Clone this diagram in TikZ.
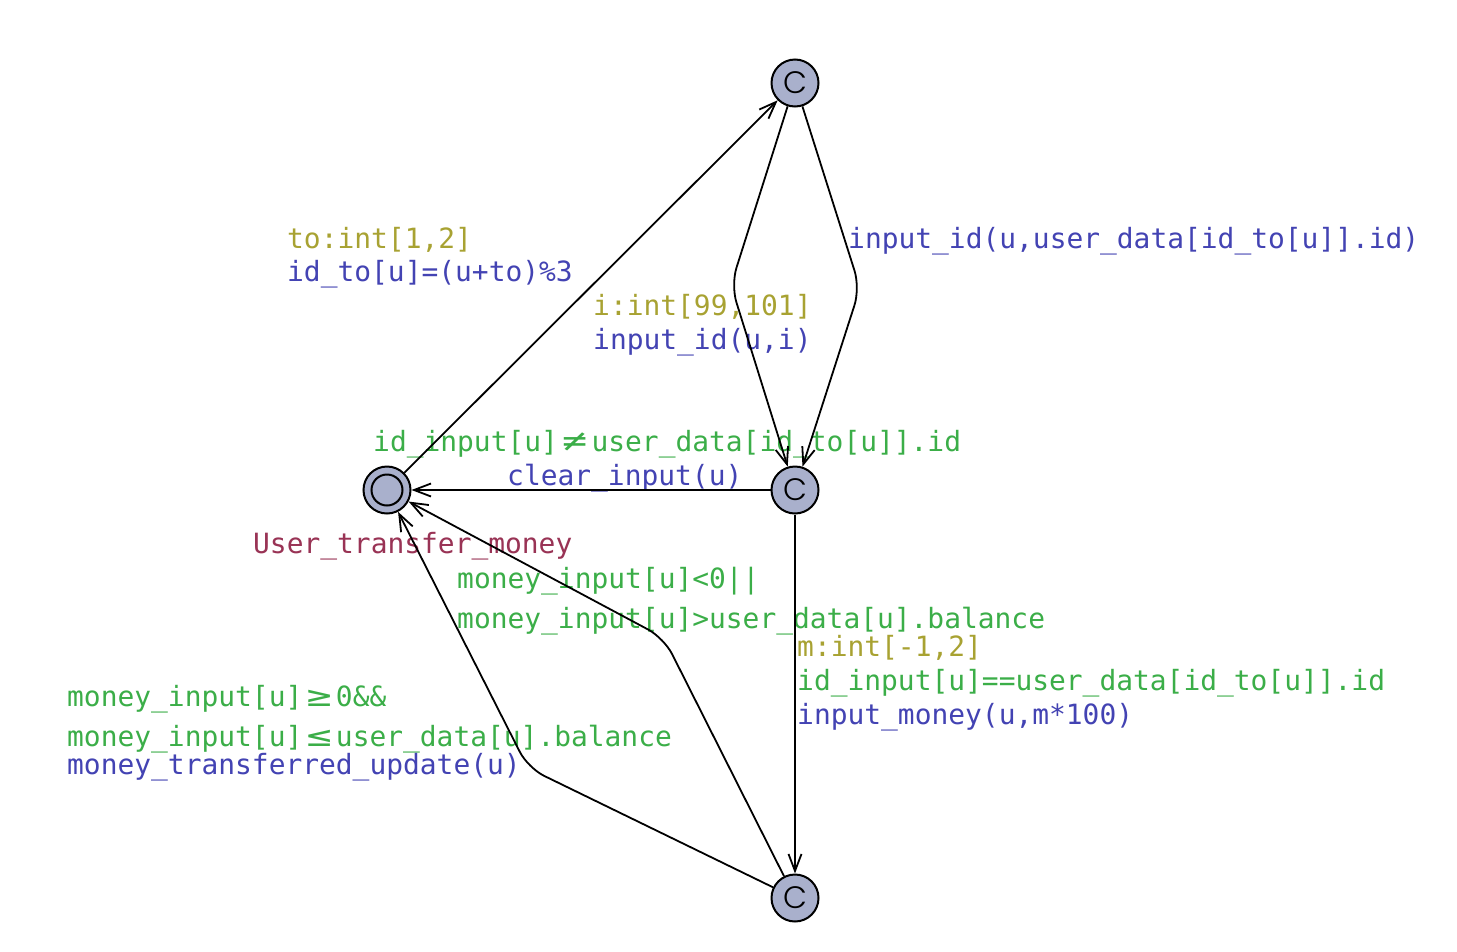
\documentclass[tikz,border=0pt]{standalone}
\usepackage{fontspec}
\usepackage{graphicx}
\usetikzlibrary{arrows.meta}
\newfontfamily\monofont{DejaVu Sans Mono}
\newfontfamily\cfont{Poppins Light}
\definecolor{selc}{HTML}{A8A232}
\definecolor{grdc}{HTML}{3BAE48}
\definecolor{updc}{HTML}{4343B3}
\definecolor{nmc}{HTML}{993355}
\definecolor{locfill}{HTML}{A9B0CC}
\newcommand{\ligbox}[1]{\makebox[33.6pt][c]{\scalebox{1.5}[1.1]{#1}}}
\begin{document}
\begin{tikzpicture}[x=1pt,y=-1pt,
  loc/.style={circle,draw,line width=2pt,fill=locfill,minimum size=47pt,inner sep=0pt,
    font=\cfont\fontsize{31}{31}\selectfont},
  ring/.style={circle,draw,line width=2pt,minimum size=31pt,inner sep=0pt},
  lbl/.style={anchor=base west,inner sep=0pt,font=\monofont\fontsize{27.9}{30}\selectfont},
  sel/.style={lbl,text=selc},
  grd/.style={lbl,text=grdc},
  upd/.style={lbl,text=updc},
  nm/.style={lbl,text=nmc},
  edge/.style={draw,line width=1.8pt,rounded corners=18pt,
    -{Straight Barb[length=17pt,width=13pt,line width=1.8pt]}}
]
\useasboundingbox[fill=white] (0,0) rectangle (1457,951);

% locations
\node[loc] (top) at (795,83) {C};
\node[loc] (mid) at (795,490) {C};
\node[loc] (bot) at (795,898) {C};
\node[loc] (init) at (387,490) {};
\node[ring] (initring) at (init) {};

% nails
\coordinate (n1) at (731,285);
\coordinate (n2) at (860,288);
\coordinate (n3) at (664,638);
\coordinate (n4) at (528,768);

% labels
\node[sel] (s1) at (287,248) {to:int[1,2]};
\node[upd] (u1) at (287,281) {id\_to[u]=(u+to)\%3};
\node[sel] (s2) at (593,315) {i:int[99,101]};
\node[upd] (u2) at (593,349) {input\_id(u,i)};
\node[upd] (u3) at (848,248) {input\_id(u,user\_data[id\_to[u]].id)};
\node[grd] (g4) at (373,451) {id\_input[u]\ligbox{≠}user\_data[id\_to[u]].id};
\node[upd] (u4) at (507,485) {clear\_input(u)};
\node[nm] (name) at (253,553) {User\_transfer\_money};
\node[grd] (g6a) at (457,588) {money\_input[u]<0||};
\node[grd] (g6b) at (457,628) {money\_input[u]>user\_data[u].balance};
\node[sel] (s5) at (797,656) {m:int[-1,2]};
\node[grd] (g5) at (797,690) {id\_input[u]==user\_data[id\_to[u]].id};
\node[upd] (u5) at (797,724) {input\_money(u,m*100)};
\node[grd] (g7a) at (67,706) {money\_input[u]\ligbox{≥}0\&\&};
\node[grd] (g7b) at (67,746) {money\_input[u]\ligbox{≤}user\_data[u].balance};
\node[upd] (u7) at (67,774) {money\_transferred\_update(u)};

% edges
\draw[edge] (init) -- (top);
\draw[edge] (top) -- (n1) -- (mid);
\draw[edge] (top) -- (n2) -- (mid);
\draw[edge] (mid) -- (init);
\draw[edge] (mid) -- (bot);
\draw[edge] (bot) -- (n3) -- (init);
\draw[edge] (bot) -- (n4) -- (init);
\end{tikzpicture}
\end{document}
